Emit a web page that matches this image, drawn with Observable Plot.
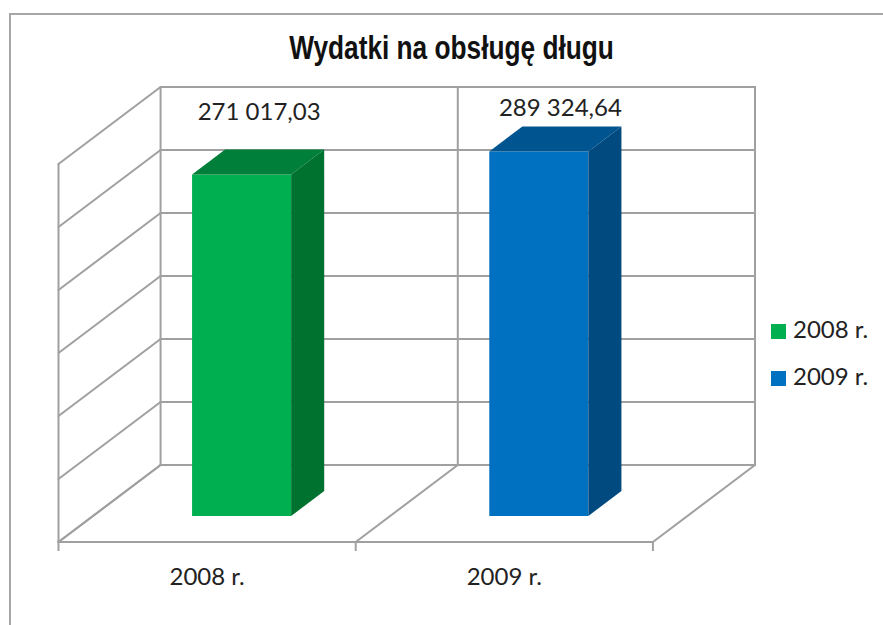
<!DOCTYPE html>
<html lang="pl">
<head>
<meta charset="utf-8">
<script src="https://cdn.jsdelivr.net/npm/d3@7"></script>
<script src="https://cdn.jsdelivr.net/npm/@observablehq/plot@0.6"></script>
<style>
html,body{margin:0;padding:0;background:#fff;}
#wrap{position:relative;width:883px;height:625px;overflow:hidden;font-family:Lato,sans-serif;color:#222;}
#frame{position:absolute;left:9px;top:13px;right:-5px;bottom:-5px;border:2px solid #a6a6a6;box-sizing:border-box;}
#title{position:absolute;left:200px;width:503px;top:26px;text-align:center;font:bold 34px/42px "Liberation Sans",sans-serif;color:#111;white-space:nowrap;transform:scaleX(0.772);transform-origin:center;}
.lg{position:absolute;left:771px;height:24px;font-size:24px;line-height:24px;white-space:nowrap;}
.lg i{display:inline-block;width:15px;height:15px;margin-right:7px;vertical-align:-1px;}
#chart{position:absolute;left:0;top:0;}
</style>
</head>
<body>
<div id="wrap">
  <div id="frame"></div>
  <div id="chart"></div>
  <div id="title">Wydatki na obsługę długu</div>
  <div id="legend"></div>
</div>
<script>
const categories = ["2008 r.", "2009 r."];
const values = [271017.03, 289324.64];
const valueLabels = ["271 017,03", "289 324,64"];
const gridValues = [0, 50000, 100000, 150000, 200000, 250000, 300000];
const frontColors = ["#00b050", "#0070c0"];
const topColors = ["#007f3a", "#00548f"];
const sideColors = ["#00722f", "#004a80"];

// Oblique projection: depth d in [0, 1] shifts along both axes.
const depthX = 102 / 297;
const depthY = 61111;
const px = (c, d) => c + d * depthX;
const py = (v, d) => v + d * depthY;
const n = categories.length;
const vMax = gridValues[gridValues.length - 1];

// Wall and floor lines
const seg = [];
const addSeg = (a, b) => { const id = seg.length; seg.push({id, x: a[0], y: a[1]}, {id, x: b[0], y: b[1]}); };
for (const v of gridValues) {
  addSeg([px(0, 0), py(v, 0)], [px(0, 1), py(v, 1)]);
  addSeg([px(0, 1), py(v, 1)], [px(n, 1), py(v, 1)]);
}
addSeg([px(0, 0), py(0, 0)], [px(0, 0), py(vMax, 0)]);
for (let c = 0; c <= n; c++) {
  addSeg([px(c, 1), py(0, 1)], [px(c, 1), py(vMax, 1)]);
  addSeg([px(c, 0), py(0, 0)], [px(c, 1), py(0, 1)]);
}
addSeg([px(0, 0), py(0, 0)], [px(n, 0), py(0, 0)]);

// Bar faces
const faces = [];
const d0 = 0.338, d1 = 0.662;
const addFace = (pts, color) => { const id = faces.length; pts.forEach(p => faces.push({id, x: p[0], y: p[1], color})); };
values.forEach((v, i) => {
  const a = i + 1 / 3, b = i + 2 / 3;
  addFace([[px(a,d0),py(0,d0)],[px(b,d0),py(0,d0)],[px(b,d0),py(v,d0)],[px(a,d0),py(v,d0)]], frontColors[i]);
  addFace([[px(a,d0),py(v,d0)],[px(b,d0),py(v,d0)],[px(b,d1),py(v,d1)],[px(a,d1),py(v,d1)]], topColors[i]);
  addFace([[px(b,d0),py(0,d0)],[px(b,d1),py(0,d1)],[px(b,d1),py(v,d1)],[px(b,d0),py(v,d0)]], sideColors[i]);
});

const tickRows = d3.range(n + 1).map(c => ({c}));
const catRows = categories.map((label, i) => ({label, x: i + 0.5}));
const font = {fontFamily: "Lato, sans-serif", fontSize: 24, fill: "#222"};
const valueMark = (i, dx, dy) => Plot.text([i], {
  x: d => px(d + 0.5, 0.5), y: d => py(values[d], 0.5), text: d => valueLabels[d], dx, dy, ...font
});

const plot = Plot.plot({
  width: 883, height: 625, margin: 0,
  style: {background: "transparent", overflow: "visible"},
  x: {type: "linear", domain: [0, n + depthX], range: [58, 754.5], axis: null},
  y: {type: "linear", domain: [0, vMax + depthY], range: [541.5, 86.5], axis: null},
  color: {type: "identity"},
  marks: [
    Plot.line(seg, {x: "x", y: "y", z: "id", stroke: "#a0a0a0", strokeWidth: 2}),
    Plot.ruleX(tickRows, {x: "c", y1: 0, y2: -7500, stroke: "#a0a0a0", strokeWidth: 2}),
    Plot.line(faces, {x: "x", y: "y", z: "id", fill: "color", stroke: null}),
    Plot.text(catRows, {x: "x", y: () => 0, text: "label", dy: 35, ...font}),
    valueMark(0, 1, -50),
    valueMark(1, 5, -31)
  ]
});
document.getElementById("chart").appendChild(plot);

const legend = document.getElementById("legend");
categories.forEach((c, i) => {
  const el = document.createElement("div");
  el.className = "lg";
  el.style.top = (317 + i * 47) + "px";
  el.innerHTML = `<i style="background:${frontColors[i]}"></i>${c}`;
  legend.appendChild(el);
});
</script>
</body>
</html>
